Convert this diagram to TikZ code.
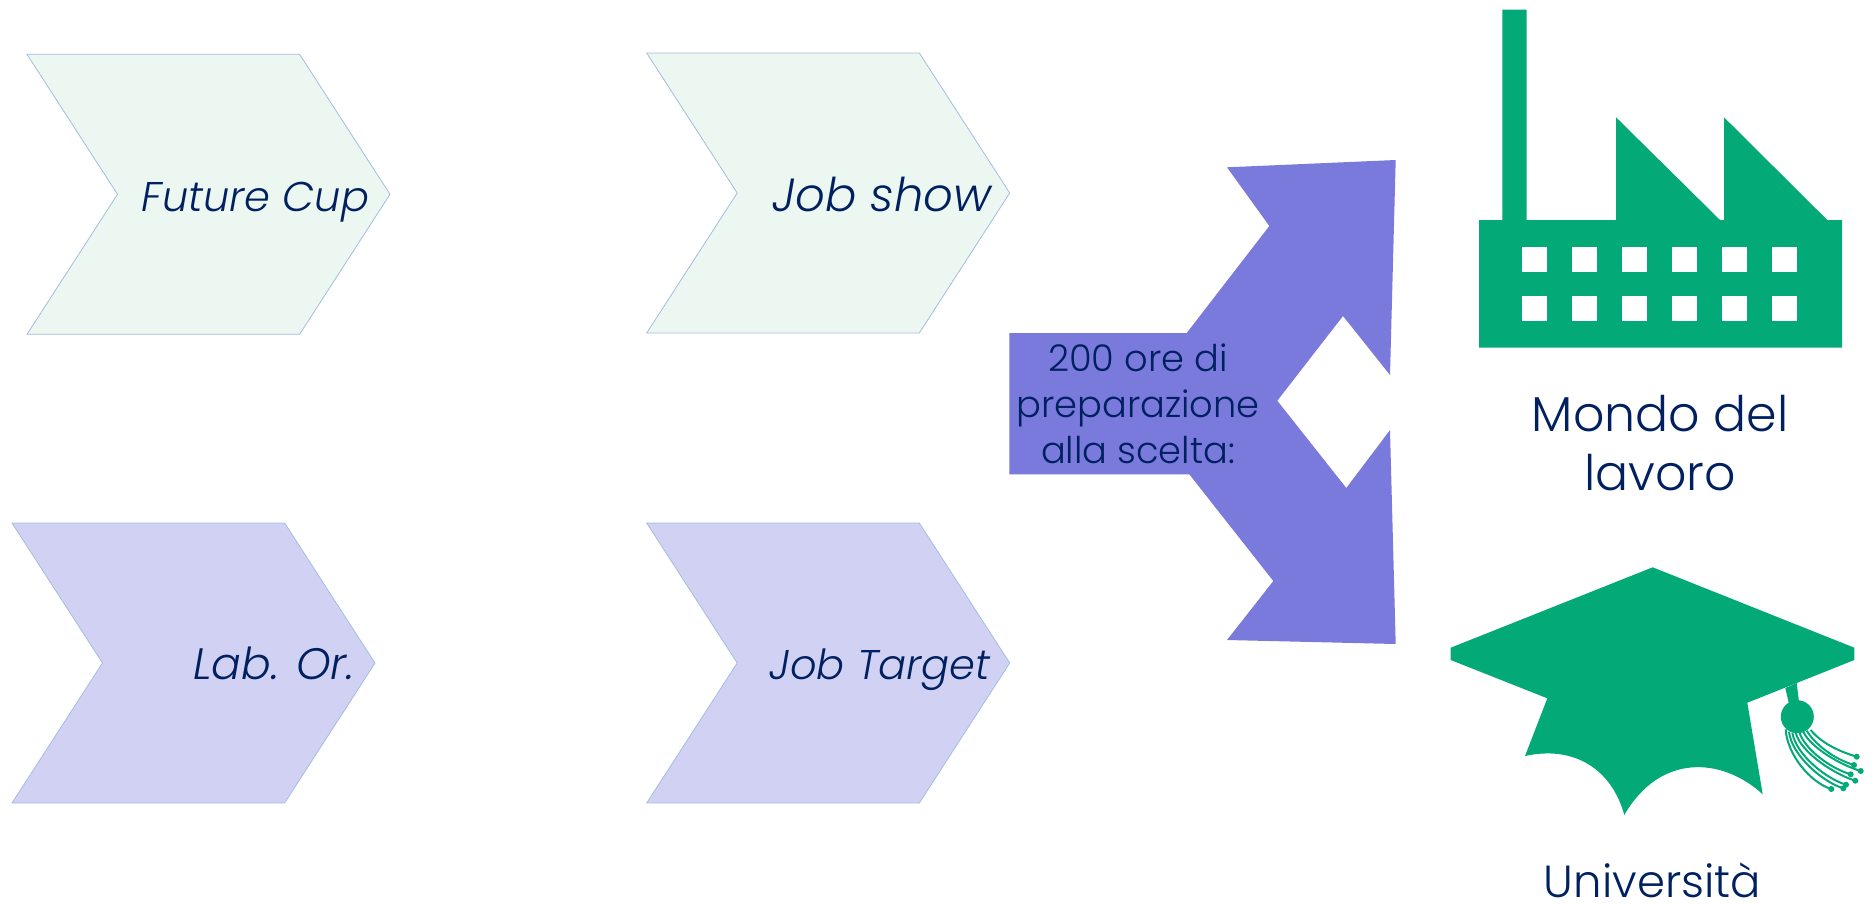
\documentclass[tikz,border=0pt]{standalone}
\usepackage{fontspec}
\setmainfont{Poppins Light}
\definecolor{navytext}{HTML}{00205F}
\definecolor{arrowblue}{HTML}{7A7ADC}
\definecolor{capgreen}{HTML}{03A976}
\definecolor{palegreen}{HTML}{ECF7F2}
\definecolor{palelilac}{HTML}{D1D2F3}
\definecolor{chevline}{HTML}{A3BDE0}
\begin{document}
\begin{tikzpicture}[x=1pt,y=-1pt,
                    greenchev/.style={
			draw=chevline,
			fill=palegreen,
			line width=0.8pt,
		},
                    lilacchev/.style={
			draw=chevline,
			fill=palelilac,
			line width=0.8pt,
		},
                    chevlabel/.style={
			text=navytext,
			anchor=base,
			inner sep=0pt,
		},
                    prepbox/.style={
			text=navytext,
			font=\fontsize{36.8}{46}\selectfont,
			align=center,
			anchor=center,
			inner sep=0pt,
		},
                    sidelabel/.style={
			text=navytext,
			font=\fontsize{49}{59}\selectfont,
			align=center,
			anchor=center,
			inner sep=0pt,
		} ]

\useasboundingbox (0,0) rectangle (1874,903);

% the four chevrons
\foreach \cx/\cy/\sty/\nm/\lx/\ly/\fs/\lab in {
	27/54.3/greenchev/future/255.5/211/41.5/Future Cup,
	646.7/53/greenchev/jobshow/882/211/46.5/Job show,
	12/523/lilacchev/labor/274/679/44/Lab. Or.,
	646.7/523/lilacchev/jobtarget/880/679/41.5/Job Target}
{
	\draw[\sty] (\cx,\cy) -- ++(272.6,0) -- ++(90.4,140) -- ++(-90.4,140) -- ++(-272.6,0) -- ++(90.5,-140) -- cycle;
	\node[chevlabel, font=\fontsize{\fs}{48}\selectfont\itshape] (\nm) at (\lx,\ly) {\lab};
}

% three way arrow
\fill[arrowblue] (1009.3,333) -- (1186.7,333) -- (1269.3,226) -- (1227,167.3) -- (1395.7,160)
	-- (1390,375) -- (1343,316) -- (1277.3,400.7) -- (1346.3,488) -- (1390,430) -- (1395.7,644)
	-- (1227,640) -- (1273.3,581) -- (1189.3,474.3) -- (1009.3,474.3) -- cycle;
\node[prepbox] (prep) at (1138,404) {200 ore di \\ preparazione \\ alla scelta:};

% factory
\fill[capgreen] (1502.3,9.7) -- (1526.7,9.7) -- (1526.7,220) -- (1616,220) -- (1616,117.3) -- (1720,220)
	-- (1724,220) -- (1724,117.3) -- (1827.3,220) -- (1842,220) -- (1842,347.7) -- (1479,347.7) -- (1479,220)
	-- (1502.3,220) -- cycle;
\foreach \wx in {0,...,5}
	\foreach \wy in {247.3,295.7}
		\fill[white] (1522.3+\wx*49.85,\wy) rectangle ++(25,25);
\node[sidelabel] (mondo) at (1660,443) {Mondo del \\ lavoro};

% cap
\fill[capgreen] (1652.7,567.3) -- (1854.3,647.7) -- (1854.3,660) -- (1747.3,702.7) -- (1762.7,794.3)
	.. controls (1722,757) and (1660,753) .. (1624.3,815)
	.. controls (1612,770) and (1575,745) .. (1525,756)
	-- (1547.3,698.3) -- (1450.7,660) -- (1450.7,647.7) -- cycle;
\fill[capgreen] (1785.3,688) -- (1796.7,683) -- (1799,702) -- (1789,704) -- cycle;
\fill[capgreen] (1797.3,716.7) circle (16.5);
\foreach \sx/\sy/\ex/\ey [count=\i] in {
	1810.7/730/1856.7/756.7,
	1806.7/730.7/1854/765,
	1803.3/731.7/1860.7/771,
	1799.3/732.3/1850.7/774.3,
	1795.7/732.7/1855.3/780.7,
	1792.3/732.7/1846/784.7,
	1789/731.7/1843.3/788.3,
	1785.7/729.3/1831.3/789}
{
	\draw[capgreen, line width=2pt] (\sx,\sy) .. controls +({11-\i*1.2},{10+\i*2}) and +(-20,-6) .. (\ex,\ey);
	\fill[capgreen] (\ex,\ey) circle (3);
}
\node[sidelabel, anchor=base, font=\fontsize{45}{59}\selectfont] (uni) at (1652.5,897) {Università};

\end{tikzpicture}
\end{document}
